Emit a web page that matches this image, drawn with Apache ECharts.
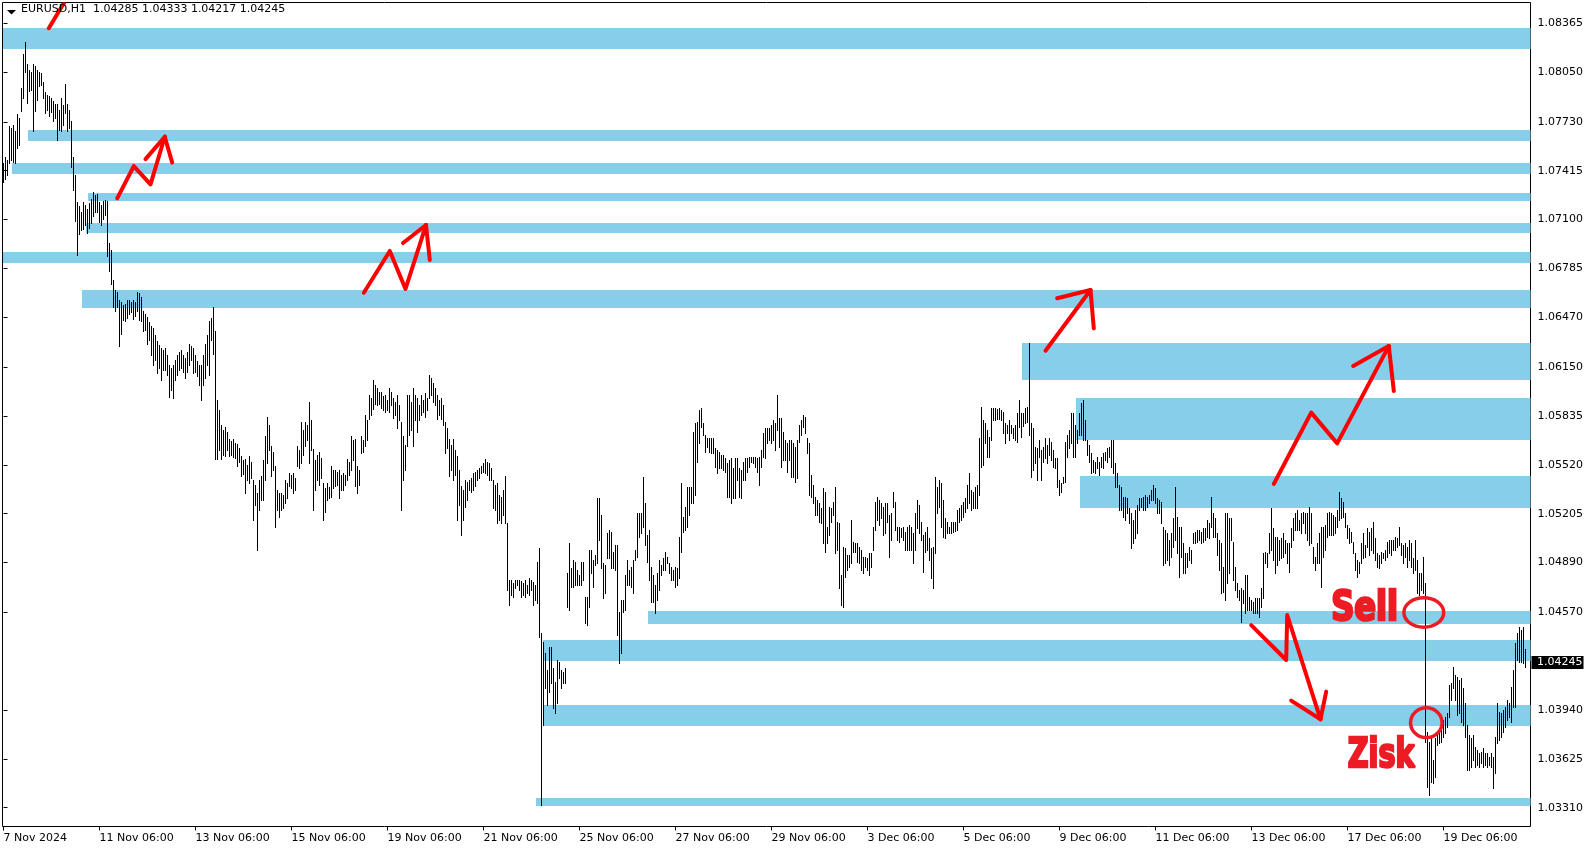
<!DOCTYPE html>
<html><head><meta charset="utf-8">
<script src="https://cdn.jsdelivr.net/npm/echarts@6/dist/echarts.min.js"></script>
<style>html,body{margin:0;padding:0;background:#fff}#c{width:1594px;height:850px}</style>
</head><body><div id="c"></div>
<script>
// ---------------- DATA ----------------
const SYMBOL = 'EURUSD,H1';
// Prices are written in units of 0.00001 above 1.00000 (e.g. 4245 = 1.04245)
const P = v => 1 + v / 1e5;

// hourly bars (high / low), oldest first
const highs = [
7465,7503,7484,7703,7690,7710,7671,7780,7755,7948,
8167,8244,8103,8064,8051,8103,8090,8064,8051,8045,
7987,7922,7903,7896,7884,7864,7845,7845,7806,7884,
7838,7974,7845,7806,7735,7503,7387,7213,7188,7149,
7213,7194,7168,7207,7233,7278,7259,7265,7213,7194,
7220,7226,7220,6949,6904,6711,6647,6633,6582,6569,
6550,6556,6582,6582,6569,6582,6569,6633,6627,6601,
6511,6492,6472,6440,6414,6401,6356,6318,6292,6273,
6260,6273,6227,6163,6144,6163,6196,6227,6247,6260,
6227,6209,6247,6298,6286,6273,6227,6189,6163,6163,
6227,6298,6356,6447,6466,6537,6382,5938,5874,5776,
5745,5763,5731,5686,5673,5686,5660,5654,5628,5577,
5551,5557,5519,5577,5538,5422,5390,5338,5422,5448,
5551,5705,5828,5776,5641,5602,5512,5358,5338,5338,
5325,5422,5403,5467,5454,5467,5435,5641,5616,5796,
5745,5796,5776,5925,5809,5622,5551,5583,5602,5564,
5403,5371,5403,5377,5512,5487,5487,5474,5487,5454,
5467,5454,5557,5538,5705,5680,5686,5512,5487,5705,
5680,5841,5809,5970,5951,6067,6034,6015,5990,5990,
5964,5970,5938,6015,5990,5951,5925,5970,5905,5796,
5705,5647,5970,5970,5925,6015,5970,5951,5905,5970,
5938,5983,5951,6099,6080,6047,6015,5970,5938,5951,
5905,5796,5757,5686,5647,5686,5616,5577,5487,5383,
5358,5422,5409,5422,5435,5467,5474,5487,5500,5512,
5532,5557,5538,5532,5500,5422,5390,5403,5325,5312,
5358,5448,5145,4777,4777,4758,4777,4777,4777,
4771,4758,4777,4745,4790,4777,4764,4745,4893,4984,
4436,4378,4307,4197,4346,4346,4210,4120,4262,4249,
4197,4185,4210,4822,5016,4855,4906,4893,4842,4809,
4893,4893,4668,4668,4971,4971,4906,4938,5306,5306,
5196,4887,4874,5080,5100,5087,4958,5003,5003,4571,
4649,4649,4809,4906,4842,4861,4906,4971,5209,5209,
5209,5441,5274,5067,5100,4861,4809,4745,4822,4906,
4874,4919,4958,4925,4887,4861,4842,4861,4855,5055,
5403,5183,5248,5377,5377,5377,5731,5789,5796,5874,
5886,5789,5712,5693,5693,5693,5693,5628,5616,5602,
5583,5583,5564,5532,5551,5564,5500,5564,5564,5500,
5487,5538,5564,5564,5570,5570,5570,5570,5564,5570,
5616,5725,5757,5757,5757,5776,5809,5789,5970,5822,
5822,5731,5680,5660,5680,5680,5660,5635,5680,5776,
5809,5841,5828,5693,5660,5454,5390,5312,5293,5274,
5242,5371,5345,5119,5248,5242,5280,5377,5151,5145,
4809,4990,4984,4938,4938,5164,5022,5016,5016,4990,
4971,4925,4925,4919,4951,4951,5119,5280,5312,5293,
5274,5248,5274,5274,5196,5209,5345,5280,5119,5119,
5112,5119,5087,5119,5132,5119,5080,5209,5293,5261,
5151,5067,5087,5119,5048,4984,4990,5441,5377,5422,
5403,5293,5177,5151,5119,5151,5151,5151,5229,5242,
5261,5280,5306,5390,5467,5358,5345,5377,5390,5693,
5892,5809,5789,5745,5699,5886,5886,5886,5880,5886,
5874,5860,5789,5776,5809,5776,5757,5776,5854,5938,
5854,5854,5886,5892,6305,
5789,5757,5635,5628,5680,5616,5635,5693,
5647,5693,5667,5616,5564,5564,5422,5403,5441,5667,
5712,5745,5854,5854,5776,5745,5854,5918,5938,5809,
5680,5647,5596,5551,5538,5570,5538,5570,5596,5602,
5628,5635,5680,5680,5532,5467,5390,5377,5312,5312,
5306,5242,5209,5164,5229,5261,5306,5306,5312,5325,
5312,5325,5358,5390,5371,5306,5293,5280,5119,5100,
5080,5035,5080,5177,5377,5183,5119,5119,5016,4951,
4951,4990,4971,5080,5087,5100,5100,5087,5112,5112,
5164,5145,5312,5209,5177,5080,5035,5016,4861,5209,
5209,5177,5177,5022,4861,4758,4713,4726,4713,4809,
4809,4668,4649,4636,4662,4662,4662,4726,4951,4958,
4951,5080,5242,5112,5055,5055,5035,5048,5080,5035,
5016,5016,5112,5177,5209,5229,5164,5209,5216,5209,
5209,5248,5209,4990,4925,5016,5080,5119,5119,5132,
5209,5216,5209,5196,5183,5229,5345,5306,5280,5209,
5132,5112,5087,5022,4951,4906,4893,5016,5080,5003,
5112,5087,5112,5151,5048,4951,4938,4958,4951,4971,
5022,5035,5035,5035,5055,5048,5119,5016,5003,5016,
4990,5035,5016,4919,5035,4906,4822,4822,4925,4758,
3798,3733,3759,3617,3759,3778,3798,3824,3875,3894,
3920,4101,4114,4217,4165,4153,4133,4146,4082,3985,
3843,3778,3759,3778,3701,3682,3662,3669,3695,3662,
3662,3636,3662,3636,3766,3985,3927,3920,3940,3959,
4004,3985,4088,4197,4371,4436,4475,4455,4475,4333
];
const lows = [
7342,7361,7387,7465,7484,7471,7465,7561,7581,7800,
7883,8051,7851,7929,7935,7671,7800,7871,7961,7967,
7883,7787,7806,7767,7793,7735,7755,7613,7677,7671,
7710,7787,7671,7690,7439,7291,7091,6872,7007,7033,
7039,7065,7014,7046,7078,7123,7149,7149,7084,7065,
7104,7130,6865,6769,6685,6537,6511,6537,6285,6363,
6453,6447,6466,6492,6505,6459,6479,6511,6453,6447,
6382,6389,6298,6325,6227,6163,6196,6112,6144,6067,
6131,6131,6099,5957,6002,5951,6067,6099,6131,6144,
6118,6080,6118,6163,6196,6112,6118,6092,6034,5938,
6034,6080,6163,6099,6325,6234,5557,5557,5616,5557,
5583,5577,5616,5577,5583,5570,5564,5512,5538,5448,
5461,5338,5422,5403,5435,5164,5261,4971,5229,5293,
5293,5422,5532,5616,5448,5487,5119,5229,5183,5229,
5242,5274,5306,5383,5371,5338,5358,5512,5500,5532,
5583,5641,5680,5532,5616,5229,5358,5422,5390,5435,
5164,5216,5293,5306,5312,5371,5383,5390,5306,5358,
5358,5390,5422,5454,5487,5551,5383,5338,5390,5596,
5602,5641,5680,5815,5841,5880,5912,5905,5912,5886,
5874,5860,5874,5860,5905,5822,5841,5757,5809,5229,
5422,5487,5641,5712,5745,5641,5809,5731,5809,5841,
5860,5828,5874,5950,5970,5925,5905,5815,5841,5815,
5776,5596,5628,5448,5487,5422,5454,5164,5261,5067,
5164,5248,5293,5358,5345,5358,5383,5422,5435,5467,
5474,5467,5454,5422,5422,5242,5229,5145,5164,5145,
5196,5145,4713,4616,4680,4667,4726,4745,4713,
4667,4680,4667,4693,4680,4713,4616,4649,4629,4410,
3327,3843,4082,3972,4056,4114,3953,3920,3985,4146,
4082,4114,4114,4603,4584,4732,4732,4745,4745,4745,
4745,4777,4500,4487,4603,4822,4732,4874,4887,5035,
4855,4662,4693,4919,4919,4855,4855,4842,4423,4243,
4307,4571,4584,4745,4745,4732,4693,4906,4925,5055,
5080,5119,5003,4893,4777,4636,4636,4565,4649,4713,
4809,4842,4842,4887,4822,4777,4777,4732,4745,4790,
4958,5087,5100,5119,5196,5274,5274,5325,5538,5660,
5764,5712,5602,5635,5602,5596,5596,5506,5467,5500,
5500,5487,5474,5312,5312,5274,5306,5306,5422,5312,
5306,5422,5422,5474,5506,5538,5532,5506,5474,5390,
5506,5570,5564,5660,5680,5660,5680,5616,5745,5635,
5506,5551,5551,5474,5551,5441,5441,5409,5435,5667,
5712,5764,5725,5596,5325,5312,5274,5196,5196,5151,
5145,5016,4958,5016,5067,5151,5196,4951,4971,4726,
4616,4603,4797,4842,4861,4887,4958,4958,4893,4887,
4842,4822,4861,4842,4809,4861,4971,5100,5164,5132,
5177,5067,5080,5151,4925,5035,5248,5100,5035,5022,
5055,5035,4971,4971,4971,4971,4887,4971,5112,5080,
5035,4829,4958,4971,4906,4790,4726,4951,5209,5248,
5119,5055,5048,5080,5080,5080,5087,5093,5100,5151,
5164,5183,5216,5242,5274,5229,5242,5242,5242,5325,
5506,5519,5660,5570,5570,5680,5809,5809,5815,5815,
5809,5725,5660,5725,5680,5725,5693,5680,5667,5764,
5699,5770,5789,5796,5712,
5441,5487,5532,5422,5570,5422,5538,5564,
5532,5583,5551,5506,5500,5377,5325,5345,5403,5409,
5570,5628,5660,5570,5570,5660,5712,5712,5680,5680,
5583,5538,5467,5474,5467,5500,5454,5506,5500,5551,
5538,5570,5506,5467,5377,5377,5229,5229,5183,5164,
5209,5145,4984,5016,5048,5080,5229,5248,5229,5229,
5248,5274,5293,5293,5274,5209,5209,5145,4874,4887,
4906,4874,4925,4990,5035,4951,4797,4925,4822,4822,
4861,4906,4887,5016,5016,5022,5035,5016,5022,5035,
5055,5048,5119,5055,5055,4938,4842,4693,4700,4649,
4758,4822,5035,4777,4713,4668,4649,4507,4629,4565,
4584,4584,4584,4565,4565,4565,4539,4603,4662,4887,
4861,4951,4971,4906,4822,4874,4906,4919,4925,4951,
4887,4829,4990,5035,5100,5100,5100,5080,5145,5080,
5035,5003,5016,4887,4842,4887,4887,4732,4925,4971,
5055,5067,5067,5067,5080,5119,5164,5177,5183,5119,
5048,5016,5022,4951,4842,4797,4822,4887,4919,4925,
4990,4938,4971,4951,4906,4861,4855,4887,4919,4906,
4925,4951,4938,4971,4971,4990,5003,4938,4887,4925,
4861,4906,4861,4822,4842,4693,4680,4713,4693,3733,
3443,3392,3476,3469,3508,3714,3727,3733,3766,3791,
3830,3894,4004,4082,4004,3907,3920,3862,3843,3766,
3553,3553,3572,3617,3572,3585,3572,3598,3572,3585,
3572,3585,3572,3437,3534,3727,3746,3766,3798,3830,
3875,3894,3862,3959,3959,4262,4249,4249,4243,4217
];
const lastOpen = 4285, lastClose = 4245;

// time axis: bar index of each label and its text
const tickBars = [0,48,96,144,192,240,288,336,384,432,480,528,576,624,672,720];
const tickLabels = ['7 Nov 2024','11 Nov 06:00','13 Nov 06:00','15 Nov 06:00','19 Nov 06:00','21 Nov 06:00','25 Nov 06:00','27 Nov 06:00','29 Nov 06:00','3 Dec 06:00','5 Dec 06:00','9 Dec 06:00','11 Dec 06:00','13 Dec 06:00','17 Dec 06:00','19 Dec 06:00'];
// price axis labels
const priceTicks = [8365,8050,7730,7415,7100,6785,6470,6150,5835,5520,5205,4890,4570,3940,3625,3310];

// support / resistance zones: first bar, upper price, lower price (extend to the right edge)
const zoneStart  = [-0.5, 12, 4, 42, 41, -0.5, 39, 509, 536, 538, 322, 269.5, 269.5, 266];
const zoneTop    = [8335, 7677, 7465, 7273, 7080, 6891, 6646, 6305, 5950, 5448, 4578, 4391, 3972, 3371];
const zoneBottom = [8201, 7608, 7396, 7222, 7015, 6822, 6532, 6066, 5680, 5241, 4494, 4255, 3837, 3321];

// hand drawn annotations, in [bar index, price] coordinates
const arrows = [
  {path: [[22.65,8333],[30.5,8502]]},
  {path: [[56.85,7237],[65.15,7445],[73.5,7327],[80.65,7634]], head: [[84.35,7467],[71,7490]]},
  {path: [[180.15,6629],[193.15,6898],[201,6653],[211.25,7065]], head: [[213.15,6840],[199.75,6949]]},
  {path: [[521,6255],[543.5,6646]], head: [[545.15,6399],[526.85,6593]]},
  {path: [[635.15,5396],[653.85,5856],[666.85,5658],[692.65,6285]], head: [[695.15,5995],[674.85,6157]]},
  {path: [[623.85,4487],[641.35,4262],[641.85,4552],[658.5,3880]], head: [[643.85,4000],[661.35,4058]]}
];
const rings = [[710.15,4568],[711.4,3858]];
const notes = [{text:'Sell', at:[680.6,4621]}, {text:'Zisk', at:[689.2,3669]}];

// ---------------- STYLE ----------------
const ringRadius = [[19.9,14.75],[15.75,14.9]];
const noteBox = [[65,35],[69.3,34]];
const NOTE_FONT = 'bold 48px "DejaVu Sans Condensed", "DejaVu Sans", sans-serif';
const NOTE_STROKE = 3;
const AXIS_FONT = 'DejaVu Sans';

function measure(text, font) {
  const ctx = document.createElement('canvas').getContext('2d');
  ctx.font = font; ctx.textAlign = 'center'; ctx.textBaseline = 'middle';
  const m = ctx.measureText(text);
  return {l: m.actualBoundingBoxLeft, r: m.actualBoundingBoxRight, a: m.actualBoundingBoxAscent, d: m.actualBoundingBoxDescent};
}

function rZone(params, api) {
  const a = api.coord([api.value(0), api.value(1)]);
  const b = api.coord([api.value(0), api.value(2)]);
  const cs = params.coordSys;
  const x = Math.round(a[0]);
  const y1 = Math.round(a[1]), y2 = Math.round(b[1]);
  return {type: 'rect', shape: {x: x, y: y1, width: cs.x + cs.width - x, height: y2 - y1}, style: {fill: '#87CEEB'}};
}
function rBar(params, api) {
  const a = api.coord([api.value(0), api.value(1)]);
  const b = api.coord([api.value(0), api.value(2)]);
  const x = Math.floor(a[0]);
  const y1 = Math.round(a[1]), y2 = Math.round(b[1]);
  return {type: 'rect', shape: {x: x, y: y1, width: 1, height: Math.max(1, y2 - y1 + 1)}, style: {fill: '#000'}};
}
function rArrow(params, api) {
  const a = arrows[params.dataIndex];
  const pts = a.path.map(p => api.coord([p[0], P(p[1])]));
  const st = {stroke: '#ff0000', lineWidth: 4, fill: 'none', lineJoin: 'round', lineCap: 'round'};
  const children = [{type: 'polyline', shape: {points: pts}, style: st}];
  if (a.head) {
    const tip = pts[pts.length - 1];
    a.head.forEach(h => {
      const q = api.coord([h[0], P(h[1])]);
      children.push({type: 'line', shape: {x1: tip[0], y1: tip[1], x2: q[0], y2: q[1]}, style: st});
    });
  }
  return {type: 'group', children: children};
}
function rRing(params, api) {
  const c = api.coord([api.value(0), api.value(1)]);
  const r = ringRadius[params.dataIndex];
  return {type: 'ellipse', shape: {cx: c[0], cy: c[1], rx: r[0], ry: r[1]}, style: {fill: 'none', stroke: '#ed1c24', lineWidth: 3.5}};
}
function rNote(params, api) {
  const t = notes[params.dataIndex];
  const box = noteBox[params.dataIndex];
  const c = api.coord([api.value(0), api.value(1)]);
  const m = measure(t.text, NOTE_FONT);
  const sx = (box[0] - NOTE_STROKE * 0.8) / (m.l + m.r), sy = (box[1] - NOTE_STROKE * 0.8) / (m.a + m.d);
  return {type: 'text', x: c[0] - (m.r - m.l) / 2 * sx, y: c[1] - (m.d - m.a) / 2 * sy, scaleX: sx, scaleY: sy,
    style: {text: t.text, font: NOTE_FONT, fill: '#ed1c24', stroke: '#ed1c24', lineWidth: NOTE_STROKE, align: 'center', verticalAlign: 'middle'}};
}
function rPrice(params, api) {
  const c = api.coord([api.value(0), api.value(1)]);
  const cs = params.coordSys;
  const x0 = cs.x + cs.width;
  const yc = Math.floor(c[1]);
  return {type: 'group', children: [
    {type: 'rect', shape: {x: x0 + 1, y: yc - 6, width: 52, height: 13}, style: {fill: '#000'}},
    {type: 'text', x: x0 + 6.5, y: yc + 0.5, style: {text: api.value(1).toFixed(5), fill: '#fff', font: '11px "DejaVu Sans"', align: 'left', verticalAlign: 'middle'}}
  ]};
}

const n = highs.length;
const fmt = v => P(v).toFixed(5);
const titleText = SYMBOL + '  ' + fmt(lastOpen) + ' ' + fmt(highs[n - 1]) + ' ' + fmt(lows[n - 1]) + ' ' + fmt(lastClose);

const chart = echarts.init(document.getElementById('c'), null, {renderer: 'canvas'});
chart.setOption({
  animation: false,
  backgroundColor: '#fff',
  title: {text: titleText, left: 21, top: 4, padding: 0,
    textStyle: {fontSize: 11, fontWeight: 'normal', fontFamily: AXIS_FONT, color: '#000'}},
  graphic: [{type: 'polygon', shape: {points: [[7, 10], [16, 10], [11.5, 14.5]]}, style: {fill: '#000'}}],
  grid: {left: 2.5, top: 2.5, width: 1528, height: 824, show: true, borderColor: '#000', borderWidth: 1, backgroundColor: 'transparent'},
  xAxis: {type: 'value', min: -0.5, max: 763.5,
    axisLine: {show: false}, splitLine: {show: false},
    axisTick: {show: true, customValues: tickBars, length: 4, lineStyle: {color: '#000'}},
    axisLabel: {customValues: tickBars, formatter: v => tickLabels[tickBars.indexOf(Math.round(v))] || '',
      align: 'left', margin: 6, color: '#000', fontSize: 11, fontFamily: AXIS_FONT, showMinLabel: true, showMaxLabel: true}},
  yAxis: {type: 'value', position: 'right', min: 1.03189, max: 1.08499, scale: true,
    axisLine: {show: false}, splitLine: {show: false},
    axisTick: {show: true, customValues: priceTicks.map(P), length: 4, lineStyle: {color: '#000'}},
    axisLabel: {customValues: priceTicks.map(P), formatter: v => v.toFixed(5), margin: 7, color: '#000', fontSize: 11, fontFamily: AXIS_FONT}},
  series: [
    {type: 'custom', name: 'zones', z: 1, clip: true, renderItem: rZone, encode: {x: 0, y: [1, 2]},
      data: zoneStart.map((s, k) => [s, P(zoneTop[k]), P(zoneBottom[k])])},
    {type: 'custom', name: 'EURUSD', z: 2, clip: true, renderItem: rBar, encode: {x: 0, y: [1, 2]},
      data: highs.map((h, k) => [k, P(h), P(lows[k])])},
    {type: 'custom', name: 'arrows', z: 3, clip: true, renderItem: rArrow, encode: {x: 0, y: 1},
      data: arrows.map(a => [a.path[0][0], P(a.path[0][1])])},
    {type: 'custom', name: 'rings', z: 3, clip: true, renderItem: rRing, encode: {x: 0, y: 1},
      data: rings.map(r => [r[0], P(r[1])])},
    {type: 'custom', name: 'notes', z: 3, clip: false, renderItem: rNote, encode: {x: 0, y: 1},
      data: notes.map(t => [t.at[0], P(t.at[1])])},
    {type: 'custom', name: 'price', z: 4, clip: false, renderItem: rPrice, encode: {x: 0, y: 1},
      data: [[n - 1, P(lastClose)]]}
  ]
});
</script>
</body></html>
